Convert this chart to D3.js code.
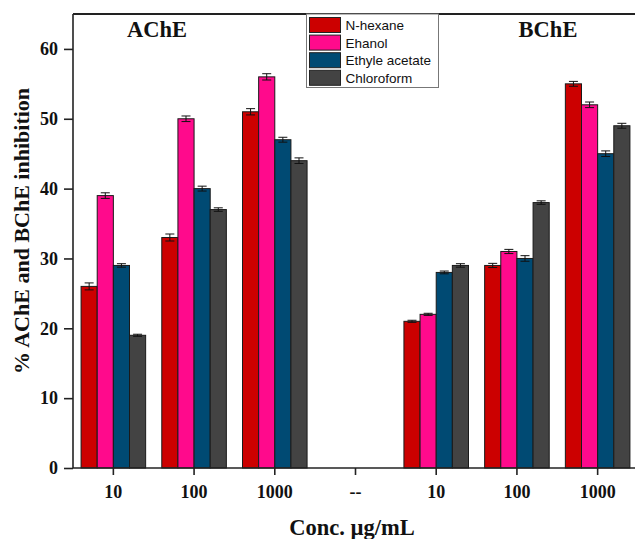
<!DOCTYPE html>
<html>
<head>
<meta charset="utf-8">
<script src="https://cdn.jsdelivr.net/npm/d3@7"></script>
<style>
  html, body { margin: 0; padding: 0; background: #fff; }
  svg { display: block; }
</style>
</head>
<body>
<svg id="chart" width="635" height="539"></svg>
<script>
// ---- data ----
const categories = ["10", "100", "1000", "--", "10", "100", "1000"];
const seriesNames = ["N-hexane", "Ehanol", "Ethyle acetate", "Chloroform"];
const nHexane      = [26, 33, 51, null, 21, 29, 55];
const ethanol      = [39, 50, 56, null, 22, 31, 52];
const ethylAcetate = [29, 40, 47, null, 28, 30, 45];
const chloroform   = [19, 37, 44, null, 29, 38, 49];
const errNHexane      = [0.5, 0.5, 0.45, null, 0.15, 0.3, 0.35];
const errEthanol      = [0.4, 0.4, 0.45, null, 0.15, 0.3, 0.4];
const errEthylAcetate = [0.25, 0.35, 0.35, null, 0.2, 0.4, 0.4];
const errChloroform   = [0.15, 0.25, 0.4, null, 0.25, 0.25, 0.35];
const yTicks = [0, 10, 20, 30, 40, 50, 60];
const panelLabels = ["AChE", "BChE"];

const seriesValues = [nHexane, ethanol, ethylAcetate, chloroform];
const seriesErrors = [errNHexane, errEthanol, errEthylAcetate, errChloroform];
const colors = ["#cc0000", "#ff0a8c", "#004a73", "#434343"];

(function () {
// ---- layout ----
const svg = d3.select("#chart");
const pLeft = 73, pRight = 638, pTop = 14, pBottom = 468;

const x = d3.scaleBand().domain(d3.range(categories.length))
  .range([pLeft, pRight]).paddingInner(0.2).paddingOuter(0.1);
const xs = d3.scaleBand().domain(d3.range(seriesNames.length))
  .range([0, x.bandwidth()]);
const y = d3.scaleLinear().domain([0, 65]).range([pBottom, pTop]);

const serif = "'Liberation Serif', 'Times New Roman', serif";
const sans = "'Liberation Sans', Arial, sans-serif";

// bars
const barData = [];
seriesValues.forEach((vals, s) => {
  vals.forEach((v, i) => {
    if (v != null) barData.push({ s, i, v, e: seriesErrors[s][i] });
  });
});

svg.append("g").selectAll("rect").data(barData).join("rect")
  .attr("x", d => x(d.i) + xs(d.s))
  .attr("y", d => y(d.v))
  .attr("width", xs.bandwidth())
  .attr("height", d => y(0) - y(d.v))
  .attr("fill", d => colors[d.s])
  .attr("stroke", "#1a1a1a")
  .attr("stroke-width", 1);

// error bars
const eg = svg.append("g").attr("stroke", "#111").attr("stroke-width", 1);
barData.forEach(d => {
  const cx = x(d.i) + xs(d.s) + xs.bandwidth() / 2;
  const y1 = y(d.v + d.e), y2 = y(d.v - d.e);
  eg.append("line").attr("x1", cx).attr("x2", cx).attr("y1", y1).attr("y2", y2);
  eg.append("line").attr("x1", cx - 4.5).attr("x2", cx + 4.5).attr("y1", y1).attr("y2", y1);
  eg.append("line").attr("x1", cx - 4.5).attr("x2", cx + 4.5).attr("y1", y2).attr("y2", y2);
});

// top frame line
svg.append("line").attr("x1", pLeft).attr("x2", 640).attr("y1", pTop).attr("y2", pTop)
  .attr("stroke", "#222").attr("stroke-width", 2);

// y axis
const yAxis = svg.append("g").attr("transform", `translate(${pLeft},0)`)
  .call(d3.axisLeft(y).tickValues(yTicks).tickSize(9).tickSizeOuter(0).tickPadding(6));
yAxis.select(".domain").attr("stroke", "#222").attr("stroke-width", 1.6)
  .attr("d", `M0,${pBottom}V${pTop}`);
yAxis.selectAll(".tick line").attr("stroke", "#222").attr("stroke-width", 1.6);
yAxis.selectAll("text").attr("font-family", serif).attr("font-weight", "bold")
  .attr("font-size", 18).attr("fill", "#111");

// x axis
const xAxis = svg.append("g").attr("transform", `translate(0,${pBottom})`)
  .call(d3.axisBottom(x).tickFormat(i => categories[i]).tickSize(7).tickSizeOuter(0).tickPadding(10));
xAxis.select(".domain").attr("stroke", "#222").attr("stroke-width", 1.6)
  .attr("d", `M${pLeft},0H${640}`);
xAxis.selectAll(".tick line").attr("stroke", "#222").attr("stroke-width", 1.6);
xAxis.selectAll("text").attr("font-family", serif).attr("font-weight", "bold")
  .attr("font-size", 18).attr("fill", "#111");

// axis titles
svg.append("text").attr("x", 352).attr("y", 535).attr("text-anchor", "middle")
  .attr("font-family", serif).attr("font-weight", "bold").attr("font-size", 22.5)
  .attr("fill", "#111").text("Conc. µg/mL");
svg.append("text").attr("transform", "translate(29,231) rotate(-90)")
  .attr("text-anchor", "middle")
  .attr("font-family", serif).attr("font-weight", "bold").attr("font-size", 22)
  .attr("fill", "#111").text("% AChE and BChE inhibition");

// panel labels
const panelX = [157, 548];
panelLabels.forEach((t, k) => {
  svg.append("text").attr("x", panelX[k]).attr("y", 37).attr("text-anchor", "middle")
    .attr("font-family", serif).attr("font-weight", "bold").attr("font-size", 22.5)
    .attr("fill", "#111").text(t);
});

// legend
const lg = svg.append("g");
lg.append("rect").attr("x", 306.5).attr("y", 14).attr("width", 132).attr("height", 73.5)
  .attr("fill", "#fff").attr("stroke", "#777").attr("stroke-width", 1);
seriesNames.forEach((n, k) => {
  const yy = 17.5 + k * 17.6;
  lg.append("rect").attr("x", 309.5).attr("y", yy).attr("width", 31).attr("height", 15)
    .attr("fill", colors[k]).attr("stroke", "#222").attr("stroke-width", 1);
  lg.append("text").attr("x", 345.5).attr("y", yy + 12.5)
    .attr("font-family", sans).attr("font-size", 13.5).attr("fill", "#111").text(n);
});
})();
</script>
</body>
</html>
